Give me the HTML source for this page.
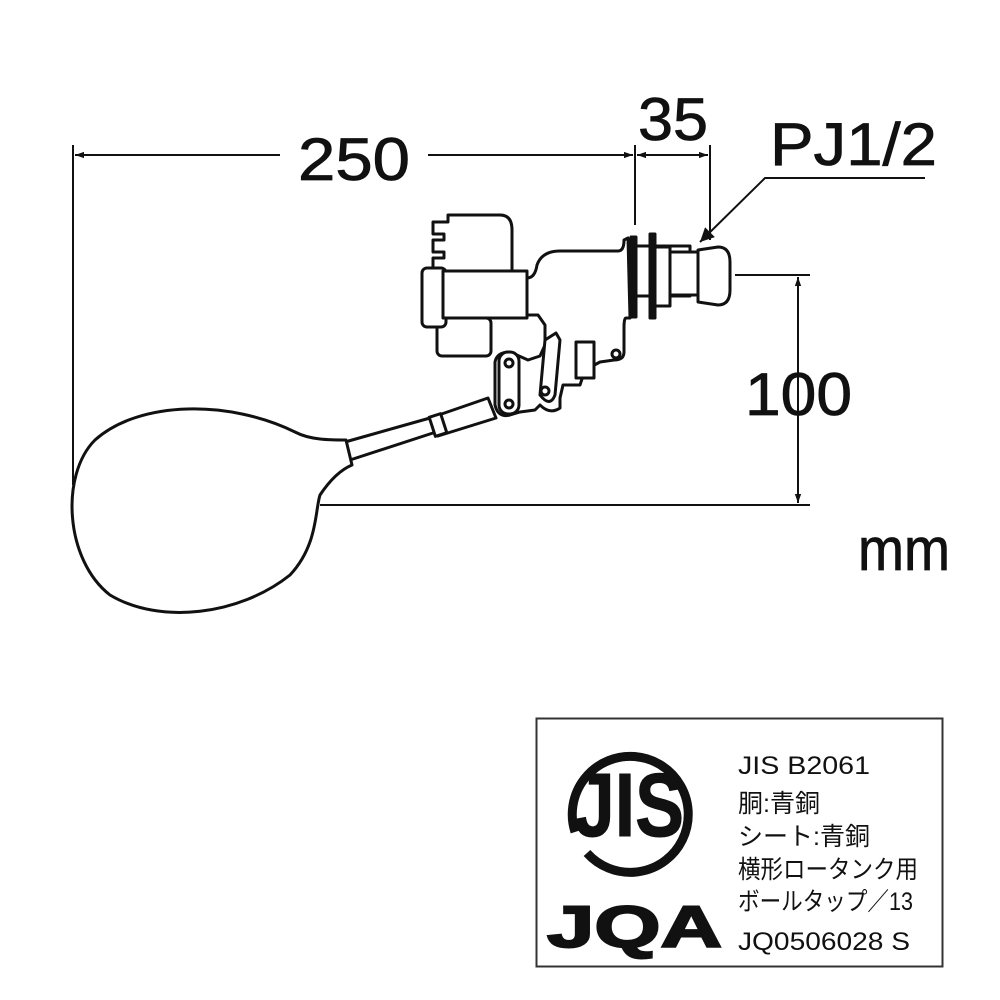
<!DOCTYPE html>
<html><head><meta charset="utf-8"><style>
html,body{margin:0;padding:0;background:#fff}
svg{display:block}
text{font-family:"Liberation Sans","Noto Sans CJK JP",sans-serif;fill:#111}
</style></head><body>
<svg width="1000" height="1000" viewBox="0 0 1000 1000" xmlns="http://www.w3.org/2000/svg">
<defs><marker id="a" viewBox="0 0 10 10" refX="10" refY="5" markerWidth="9" markerHeight="9" orient="auto-start-reverse" markerUnits="userSpaceOnUse"><path d="M0,1.5 L10,5 L0,8.5 z" fill="#111"/></marker>
<marker id="b" viewBox="0 0 10 10" refX="10" refY="5" markerWidth="18" markerHeight="14" orient="auto" markerUnits="userSpaceOnUse"><path d="M0,0 L10,5 L0,10 z" fill="#111"/></marker></defs>
<g stroke="#111" stroke-width="2" fill="none">
<line x1="73" y1="145" x2="73" y2="485"/>
<line x1="635" y1="145" x2="635" y2="225"/>
<line x1="710" y1="145" x2="710" y2="240"/>
<line x1="75" y1="155" x2="280" y2="155" marker-start="url(#a)"/>
<line x1="428" y1="155" x2="633" y2="155" marker-end="url(#a)"/>
<line x1="637" y1="155" x2="708" y2="155" marker-start="url(#a)" marker-end="url(#a)"/>
<polyline points="925,178 765,178 700,242" marker-end="url(#b)"/>
<line x1="735" y1="275" x2="810" y2="275"/>
<line x1="320" y1="505" x2="810" y2="505"/>
<line x1="798" y1="277" x2="798" y2="503" marker-start="url(#a)" marker-end="url(#a)"/>
</g>
<g font-size="60" stroke="#111" stroke-width="0.8" lengthAdjust="spacingAndGlyphs">
<text x="298" y="180" textLength="112" lengthAdjust="spacingAndGlyphs">250</text>
<text x="638" y="140" textLength="70" lengthAdjust="spacingAndGlyphs">35</text>
<text x="770" y="165" textLength="167" lengthAdjust="spacingAndGlyphs">PJ1/2</text>
<text x="745" y="415" textLength="107" lengthAdjust="spacingAndGlyphs">100</text>
<text x="858" y="570" textLength="92" lengthAdjust="spacingAndGlyphs">mm</text>
</g>
<!-- float ball and rod -->
<g stroke="#111" stroke-width="3" fill="#fff" stroke-linejoin="round">
<path d="M345,442 L430,418 L436,432 L350,460 Z"/>
<path d="M295,432 C230,400 140,400 95,440 C60,475 65,560 110,595 C160,625 240,615 290,575 C318,545 315,510 320,495 C330,480 340,470 352,465 L346,440 C330,440 310,440 295,432 Z"/>
<path d="M430,418 L488,398 L496,418 L438,436 Z"/>
<rect x="432" y="415" width="12" height="20" transform="rotate(-18 438 425)"/>
<!-- valve -->
<path d="M433,222 L448,222 L448,215 L500,215 Q512,215 512,230 L512,272 L433,272 L433,258 L444,258 L444,252 L433,252 L433,240 L444,240 L444,234 L433,234 Z"/>
<rect x="437" y="318" width="54" height="38" rx="5"/>
<rect x="422" y="268" width="24" height="59" rx="5"/>
<rect x="443" y="271" width="84" height="47"/>
<path d="M527,278 Q535,278 537,265 Q542,251 560,251 L618,251 Q624,251 624,240 L628,238 L630,318 L626,318 Q624,318 624,328 L624,352 Q624,360 614,360 L600,362 L585,370 L580,385 L563,385 L560,398 L560,408 Q550,415 540,405 L535,410 L520,412 L510,415 Q498,418 495,405 L495,362 Q497,352 510,352 L528,360 L540,356 L545,345 L545,325 L538,315 L527,315 Z"/>
<rect x="499" y="352" width="20" height="62" rx="9"/>
<circle cx="509" cy="363" r="4"/><circle cx="509" cy="404" r="4"/>
<path d="M540,395 L545,340 L556,333 L560,340 L555,395 Q550,408 540,395 Z"/>
<circle cx="545" cy="391" r="4"/>
<rect x="576" y="342" width="18" height="36"/>
<circle cx="616" cy="354" r="4"/>
<rect x="631" y="237" width="5" height="80" fill="#111"/>
<rect x="636" y="246" width="54" height="50"/>
<rect x="650" y="234" width="5" height="84" fill="#111"/>
<rect x="655" y="247" width="15" height="59"/>
<rect x="670" y="252" width="28" height="43"/>
<path d="M698,250 L718,247 Q730,247 730,262 L730,290 Q730,305 718,305 L698,302 Z"/>
</g>
<!-- JIS box -->
<rect x="536.5" y="718.5" width="406" height="248" fill="none" stroke="#333" stroke-width="2"/>
<path d="M587,853 A58,58 0 1 0 575,832" fill="none" stroke="#111" stroke-width="9"/>
<text x="574" y="836" font-size="90" font-weight="bold" textLength="110" lengthAdjust="spacingAndGlyphs" stroke="#111" stroke-width="1">JIS</text>
<text x="547" y="947" font-size="58" font-weight="bold" textLength="175" lengthAdjust="spacingAndGlyphs" stroke="#111" stroke-width="2">JQA</text>
<g font-size="25">
<text x="738" y="774" textLength="132" lengthAdjust="spacingAndGlyphs">JIS B2061</text>
<text x="738" y="812">胴:青銅</text>
<text x="738" y="845">シート:青銅</text>
<text x="738" y="878" textLength="180" lengthAdjust="spacingAndGlyphs">横形ロータンク用</text>
<text x="738" y="910" textLength="175" lengthAdjust="spacingAndGlyphs">ボールタップ／13</text>
<text x="738" y="950" textLength="172" lengthAdjust="spacingAndGlyphs">JQ0506028  S</text>
</g>
</svg>
</body></html>
